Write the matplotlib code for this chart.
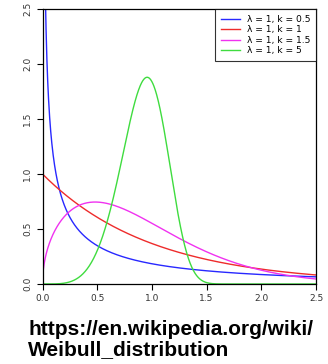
import numpy as np
import matplotlib
matplotlib.use("Agg")
import matplotlib.pyplot as plt

# Data: Weibull parameters shown in the legend
lambdas = [1, 1, 1, 1]
ks = [0.5, 1, 1.5, 5]
labels = ["λ = 1, k = 0.5", "λ = 1, k = 1", "λ = 1, k = 1.5", "λ = 1, k = 5"]
colors = ["#2828ff", "#ee2b2b", "#f032f0", "#3fdc3f"]
xticks = [0.0, 0.5, 1.0, 1.5, 2.0, 2.5]
yticks = [0.0, 0.5, 1.0, 1.5, 2.0, 2.5]
caption = "https://en.wikipedia.org/wiki/\nWeibull_distribution"

fig = plt.figure(figsize=(3.28, 3.64), dpi=100)
ax = fig.add_axes([42.5/328, 1-284/364, (316-42.5)/328, (284-9)/364])

x = np.linspace(1e-4, 2.5, 1000)
for lam, k, lab, c in zip(lambdas, ks, labels, colors):
    y = (k/lam) * (x/lam)**(k-1) * np.exp(-(x/lam)**k)
    ax.plot(x, y, color=c, lw=1.0, label=lab)

ax.set_xlim(0, 2.5)
ax.set_ylim(0, 2.5)
ax.set_xticks(xticks)
ax.set_yticks(yticks)
ax.set_xticklabels([f"{t:.1f}" for t in xticks], fontsize=6.5, color="#333333")
ax.set_yticklabels([f"{t:.1f}" for t in yticks], fontsize=6.5, color="#333333",
                   rotation=90, va="center")
ax.tick_params(direction="out", length=4, width=0.8, pad=3.5)
for s in ax.spines.values():
    s.set_linewidth(0.9)

leg = ax.legend(loc="upper right", fontsize=6.6, frameon=True, fancybox=False,
                edgecolor="black", borderaxespad=0, handlelength=2.0,
                handletextpad=0.75, labelspacing=0.15, borderpad=0.65)
leg.get_frame().set_linewidth(0.8)

fig.text(28/328, 1-320/364, caption, fontsize=15.0, fontweight="bold",
         family="Liberation Sans", ha="left", va="top", linespacing=1.1)

fig.savefig("out.png", dpi=100)
